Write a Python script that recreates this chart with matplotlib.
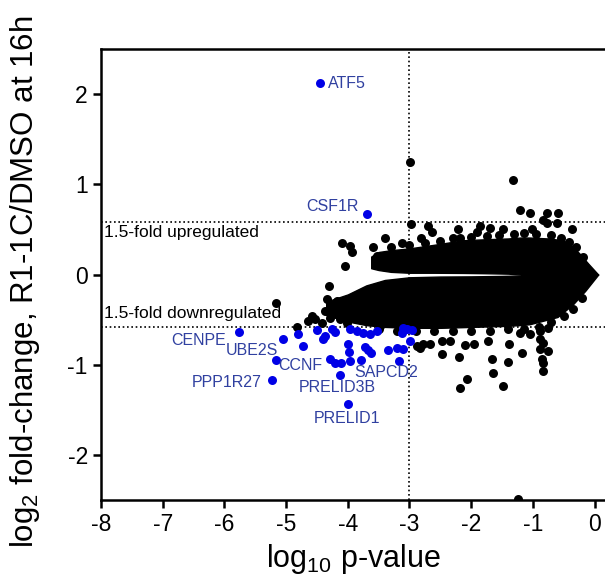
import matplotlib
matplotlib.use('Agg')
import matplotlib.pyplot as plt

plt.rcParams['font.family'] = ['Liberation Sans', 'DejaVu Sans']
plt.rcParams['mathtext.default'] = 'regular'
plt.rcParams['axes.unicode_minus'] = False

# dense core of the cloud, read as envelopes (log10 p, log2 fold-change)
up_x = [-3.62, -3.5, -3.3, -3.0, -2.6, -2.13, -1.8, -1.4, -1.2, -1.05, -0.75, -0.51, -0.35, -0.24, -0.1, 0.06]
up_top = [0.20, 0.25, 0.27, 0.29, 0.33, 0.38, 0.39, 0.40, 0.41, 0.41, 0.40, 0.38, 0.31, 0.23, 0.12, 0.0]
up_bot = [0.07, 0.05, 0.03, 0.02, 0.02, 0.018, 0.015, 0.01, 0.0, -0.05, -0.05, -0.05, -0.05, -0.05, -0.03, 0.0]

lo_x = [-4.35, -4.0, -3.7, -3.4, -3.0, -2.5, -2.0, -1.5, -1.2, -1.05, -0.6, -0.35, -0.15, 0.06]
lo_top = [-0.30, -0.22, -0.12, -0.06, -0.03, -0.022, -0.02, -0.015, -0.01, 0.03, 0.05, 0.05, 0.05, 0.0]
lo_bot = [-0.45, -0.52, -0.56, -0.58, -0.59, -0.59, -0.58, -0.57, -0.56, -0.55, -0.47, -0.33, -0.18, 0.0]

# points on the ragged rim of the core
rim_x = [-3.3, -3.0, -2.75, -2.5, -2.3, -2.0, -1.75, -1.55, -1.3, -1.15, -0.95, -0.7,
         -0.55, -0.42, -0.3, -0.18,
         -3.5, -3.2, -2.9, -2.6, -2.3, -2.0, -1.7, -1.4, -1.15, -0.9, -0.7, -0.5,
         -0.35, -0.2]
rim_y = [0.30, 0.33, 0.35, 0.37, 0.40, 0.42, 0.43, 0.44, 0.45, 0.46, 0.45, 0.44,
         0.41, 0.36, 0.30, 0.20,
         -0.60, -0.62, -0.63, -0.63, -0.62, -0.62, -0.62, -0.60, -0.60, -0.58, -0.53, -0.46,
         -0.38, -0.26]

# individual points outside the core
other_x = [-2.99, -1.32, -1.21, -1.05, -0.77, -0.59, -0.61, -0.77, -2.98, -2.70,
           -2.21, -1.86, -1.91, -1.48, -3.40, -3.12, -2.81, -2.18, -1.01, -0.84,
           -0.37, -4.09, -3.96, -3.93, -4.05, -3.59, -3.53, -3.48, -2.64, -1.70,
           -4.30, -5.16, -4.34, -4.18, -4.08, -4.58, -4.53, -4.65, -4.82, -4.37,
           -4.29, -4.42, -4.13, -4.01, -3.85, -3.69, -3.92, -3.75, -3.64, -3.48,
           -3.32, -2.83, -2.67, -2.47, -2.34, -2.47, -2.20, -2.10, -1.95, -1.73,
           -1.66, -1.65, -2.07, -2.18, -1.48, -1.39, -1.40, -1.18, -1.05, -0.89,
           -0.89, -0.84, -0.76, -1.24, -2.88, -2.78, -0.84, -0.76, -0.85, -0.84,
           -1.21, -0.89]
other_y = [1.25, 1.05, 0.72, 0.68, 0.68, 0.68, 0.57, 0.57, 0.56, 0.54,
           0.51, 0.54, 0.47, 0.51, 0.40, 0.35, 0.41, 0.41, 0.51, 0.60,
           0.51, 0.35, 0.32, 0.25, 0.10, 0.30, 0.21, 0.13, 0.47, 0.52,
           -0.13, -0.32, -0.27, -0.29, -0.37, -0.46, -0.49, -0.51, -0.58, -0.40,
           -0.48, -0.54, -0.49, -0.54, -0.27, -0.23, -0.37, -0.42, -0.51, -0.57,
           -0.54, -0.81, -0.77, -0.74, -0.74, -0.88, -0.91, -0.78, -0.77, -0.74,
           -0.94, -1.09, -1.16, -1.26, -1.23, -0.77, -0.97, -0.87, -0.66, -0.62,
           -0.82, -0.98, -0.59, -2.49, -0.79, -0.77, -0.76, -0.85, -0.93, -1.07,
           -0.65, -0.71]

# highlighted (significant) genes
sig_x = [-5.76, -5.05, -5.16, -5.23, -4.81, -4.73, -4.40, -4.37, -4.50, -4.26,
         -4.21, -4.29, -4.21, -4.11, -4.13, -4.00, -4.00, -3.98, -3.96, -3.79,
         -3.72, -3.67, -3.62, -3.96, -3.85, -3.75, -3.64, -3.53, -3.35, -3.20,
         -3.11, -3.17, -3.11, -3.04, -2.96, -3.12, -2.99, -3.69, -4.45]
sig_y = [-0.64, -0.71, -0.95, -1.17, -0.66, -0.79, -0.71, -0.68, -0.61, -0.60,
         -0.64, -0.94, -0.98, -0.98, -1.11, -1.43, -0.77, -0.86, -0.96, -0.95,
         -0.80, -0.84, -0.87, -0.60, -0.62, -0.65, -0.66, -0.62, -0.84, -0.81,
         -0.82, -0.96, -0.59, -0.60, -0.61, -0.65, -0.74, 0.67, 2.12]

genes = ['ATF5', 'CSF1R', 'CENPE', 'UBE2S', 'CCNF', 'PPP1R27', 'PRELID3B', 'PRELID1', 'SAPCD2']
gene_x = [-4.45, -3.69, -5.76, -5.05, -5.16, -5.23, -4.13, -4.00, -3.17]
gene_y = [2.12, 0.67, -0.64, -0.71, -0.95, -1.17, -1.11, -1.43, -0.96]

# label placement (pixel offsets, alignment)
label_pos = {
    'ATF5': (8, 0, 'left'),
    'CSF1R': (-8, 8, 'right'),
    'CENPE': (-13, -8, 'right'),
    'UBE2S': (-5, -12, 'right'),
    'CCNF': (2, -5, 'left'),
    'PPP1R27': (-10, -2, 'right'),
    'PRELID3B': (-2, -13, 'center'),
    'PRELID1': (-1, -15, 'center'),
    'SAPCD2': (-13, -11, 'center'),
}

fold = 0.585  # log2(1.5)
p_cut = -3

fig = plt.figure(figsize=(6.05, 5.75), dpi=100)
ax = fig.add_axes([0.167, 0.130, 0.833, 0.785])

ax.fill_between(up_x, up_bot, up_top, color='black', lw=1, ec='black')
ax.fill_between(lo_x, lo_bot, lo_top, color='black', lw=1, ec='black')
ax.scatter(rim_x, rim_y, s=42, c='black', lw=0)
ax.scatter(other_x, other_y, s=42, c='black', lw=0)
ax.scatter(sig_x, sig_y, s=42, c='#0000e6', lw=0, zorder=3)

ax.axhline(fold, color='black', ls=(0, (1, 1.6)), lw=1.2, zorder=1)
ax.axhline(-fold, color='black', ls=(0, (1, 1.6)), lw=1.2, zorder=1)
ax.axvline(p_cut, color='black', ls=(0, (1, 1.6)), lw=1.2, zorder=1)

ax.text(-7.95, 0.47, '1.5-fold upregulated', fontsize=12.5, va='center', ha='left')
ax.text(-7.95, -0.43, '1.5-fold downregulated', fontsize=12.5, va='center', ha='left')

for g, gx, gy in zip(genes, gene_x, gene_y):
    dx, dy, ha = label_pos[g]
    ax.annotate(g, (gx, gy), xytext=(dx, dy), textcoords='offset pixels',
                ha=ha, va='center', fontsize=11.5, color='#3040a0')

ax.set_xlim(-8, 0.17)
ax.set_ylim(-2.5, 2.5)
ax.set_xticks(range(-8, 1))
ax.set_yticks([-2, -1, 0, 1, 2])
ax.spines['right'].set_visible(False)
for s in ['left', 'bottom', 'top']:
    ax.spines[s].set_linewidth(1.8)
ax.tick_params(direction='out', length=6, width=1.8, labelsize=16.5)

ax.set_xlabel('log$_{10}$ p-value', fontsize=22, labelpad=4)
ax.set_ylabel('log$_2$ fold-change, R1-1C/DMSO at 16h', fontsize=22.5)
ax.yaxis.set_label_coords(-0.118, 0.485)

fig.savefig('out.png', dpi=100)
